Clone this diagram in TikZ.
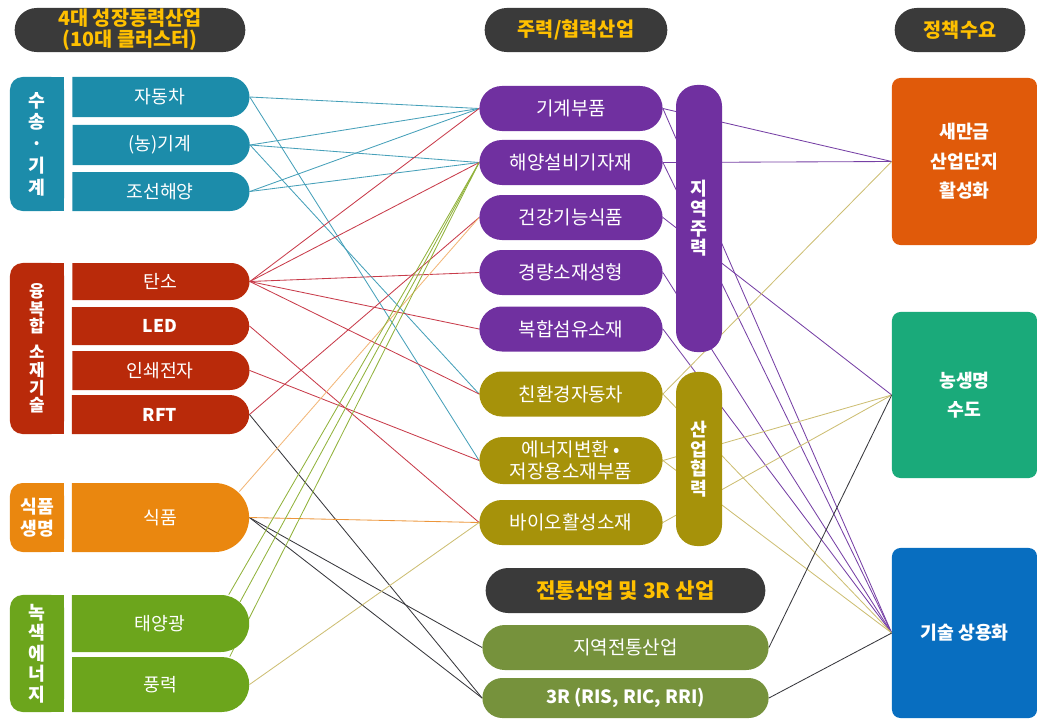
\documentclass[tikz,border=0pt]{standalone}
\usepackage{fontspec}
\setmainfont{Noto Sans CJK KR}
\usetikzlibrary{shapes.misc, positioning, backgrounds}
\definecolor{indDark}{RGB}{58, 58, 58}
\definecolor{indGold}{RGB}{255, 192, 0}
\definecolor{indTeal}{RGB}{28, 140, 170}
\definecolor{indRed}{RGB}{185, 42, 10}
\definecolor{indOrange}{RGB}{234, 135, 15}
\definecolor{indGreen}{RGB}{108, 165, 28}
\definecolor{indPurple}{RGB}{112, 48, 160}
\definecolor{indOlive}{RGB}{166, 146, 10}
\definecolor{indMoss}{RGB}{118, 146, 60}
\definecolor{polOrange}{RGB}{224, 90, 10}
\definecolor{polGreen}{RGB}{26, 170, 122}
\definecolor{polBlue}{RGB}{8, 110, 192}
\definecolor{lnTeal}{RGB}{70, 160, 185}
\definecolor{lnRed}{RGB}{200, 60, 75}
\definecolor{lnPurple}{RGB}{118, 64, 165}
\definecolor{lnTan}{RGB}{205, 190, 115}
\definecolor{lnDark}{RGB}{55, 55, 60}
\definecolor{lnGreen}{RGB}{145, 178, 60}
\definecolor{lnOrange}{RGB}{236, 150, 60}

\begin{document}
\begin{tikzpicture}[x=0.025cm, y=-0.025cm,
    headpill/.style={rounded rectangle, fill=indDark, text=indGold, minimum height=1.1cm,
                     font=\fontsize{14}{15}\selectfont\bfseries, align=center, inner ysep=0pt},
    catbox/.style={rectangle, rounded corners=9pt, minimum width=1.35cm, text=white,
                   font=\fontsize{13}{15.5}\selectfont\bfseries, align=center, inner sep=1pt},
    leftbox/.style={rounded rectangle, rounded rectangle left arc=none, minimum width=4.5cm,
                    text=white, font=\fontsize{13}{15}\selectfont, inner sep=1pt},
    midbox/.style={rounded rectangle, minimum width=4.65cm, minimum height=1.125cm, text=white,
                   font=\fontsize{13.5}{15.5}\selectfont, align=center, inner sep=1pt},
    band/.style={rectangle, rounded corners=15pt, minimum width=1.15cm, text=white,
                 font=\fontsize{13}{14}\selectfont\bfseries, align=center},
    goalbox/.style={rectangle, rounded corners=6pt, minimum width=3.625cm, text=white,
                    font=\fontsize{13}{21}\selectfont\bfseries, align=center},
    conn/.style={line width=0.6pt}
]
    \useasboundingbox (0,0) rectangle (1037,718);

    % Headers
    \node[headpill, minimum width=6cm] (head1) at (130,30) {4대 성장동력산업\\(10대 클러스터)};
    \node[headpill, minimum width=4.8cm] (head2) at (576,30) {주력/협력산업};
    \node[headpill, minimum width=3.5cm] (head3) at (960,30) {정책수요};

    % Transport / machinery
    \fill[indTeal] (37,77) rectangle (64,211);
    \node[catbox, fill=indTeal, minimum height=3.35cm] (cat1) at (37,144) {수\\송\\·\\기\\계};
    \node[leftbox, fill=indTeal, minimum height=1cm] (car) at (160,97) {자동차};
    \node[leftbox, fill=indTeal, minimum height=1cm] (agri) at (160,145) {(농)기계};
    \node[leftbox, fill=indTeal, minimum height=0.975cm] (ship) at (160,191.5) {조선해양};

    % Convergence materials
    \fill[indRed] (37,263) rectangle (64,434);
    \node[catbox, fill=indRed, minimum height=4.275cm, font=\fontsize{12}{12.5}\selectfont\bfseries]
        (cat2) at (37,348.5) {융\\복\\합\\[6pt]소\\재\\기\\술};
    \node[leftbox, fill=indRed, minimum height=0.925cm] (carbon) at (160,281.5) {탄소};
    \node[leftbox, fill=indRed, minimum height=0.95cm, font=\fontsize{12.5}{15}\selectfont\bfseries] (led) at (160,326) {LED};
    \node[leftbox, fill=indRed, minimum height=0.975cm] (print) at (160,370.5) {인쇄전자};
    \node[leftbox, fill=indRed, minimum height=0.975cm, font=\fontsize{12.5}{15}\selectfont\bfseries] (rft) at (160,414.5) {RFT};

    % Food / life
    \fill[indOrange] (37,483) rectangle (64,552);
    \node[catbox, fill=indOrange, minimum height=1.725cm] (cat3) at (37,517.5) {식품\\생명};
    \node[leftbox, fill=indOrange, minimum height=1.725cm] (food) at (160,517.5) {식품};

    % Green energy
    \fill[indGreen] (37,595) rectangle (64,712);
    \node[catbox, fill=indGreen, minimum height=2.925cm, font=\fontsize{13}{14.5}\selectfont\bfseries]
        (cat4) at (37,653.5) {녹\\색\\에\\너\\지};
    \node[leftbox, fill=indGreen, minimum height=1.425cm] (solar) at (160,623.5) {태양광};
    \node[leftbox, fill=indGreen, minimum height=1.375cm] (wind) at (160,684.5) {풍력};

    % Regional core industries
    \node[midbox, fill=indPurple] (parts) at (571,108.5) {기계부품};
    \node[midbox, fill=indPurple] (ocean) at (571,162.5) {해양설비기자재};
    \node[midbox, fill=indPurple] (health) at (571,217.5) {건강기능식품};
    \node[midbox, fill=indPurple] (light) at (571,272.5) {경량소재성형};
    \node[midbox, fill=indPurple] (fiber) at (571,329) {복합섬유소재};
    \node[band, fill=indPurple, minimum height=6.675cm] (core) at (699,218.5) {지\\역\\주\\력};

    % Cooperation industries
    \node[midbox, fill=indOlive] (eco) at (571,394) {친환경자동차};
    \node[midbox, fill=indOlive, minimum height=1.175cm] (energy) at (571,460.5) {에너지변환 •\\저장용소재부품};
    \node[midbox, fill=indOlive] (bio) at (571,522.5) {바이오활성소재};
    \node[band, fill=indOlive, minimum height=4.35cm] (coop) at (699,459) {산\\업\\협\\력};

    % Traditional and 3R
    \node[headpill, minimum width=7.225cm, minimum height=1.125cm, font=\fontsize{15}{16}\selectfont\bfseries]
        (head4) at (625.5,590.5) {전통산업 및 3R 산업};
    \node[midbox, fill=indMoss, minimum width=7.225cm] (trad) at (625.5,647.5) {지역전통산업};
    \node[midbox, fill=indMoss, minimum width=7.225cm, minimum height=1cm,
          font=\fontsize{13}{15}\selectfont\bfseries] (threer) at (625.5,698) {3R (RIS, RIC, RRI)};

    % Policy demand
    \node[goalbox, fill=polOrange, minimum height=4.175cm] (saman) at (964.5,161.5) {새만금\\산업단지\\활성화};
    \node[goalbox, fill=polGreen, minimum height=4.15cm] (agro) at (964.5,395) {농생명\\수도};
    \node[goalbox, fill=polBlue, minimum height=4.25cm] (tech) at (964.5,633) {기술 상용화};

    % Links
    \begin{scope}[on background layer]
        \draw[conn, lnTeal] (car.east) -- (parts.west);
        \draw[conn, lnTeal] (car.east) -- (energy.west);
        \draw[conn, lnTeal] (agri.east) -- (parts.west);
        \draw[conn, lnTeal] (agri.east) -- (ocean.west);
        \draw[conn, lnTeal] (agri.east) -- (eco.west);
        \draw[conn, lnTeal] (ship.east) -- (parts.west);
        \draw[conn, lnTeal] (ship.east) -- (ocean.west);

        \draw[conn, lnRed] (carbon.east) -- (parts.west);
        \draw[conn, lnRed] (carbon.east) -- (ocean.west);
        \draw[conn, lnRed] (carbon.east) -- (light.west);
        \draw[conn, lnRed] (carbon.east) -- (fiber.west);
        \draw[conn, lnRed] (carbon.east) -- (eco.west);
        \draw[conn, lnRed] (led.east) -- (bio.west);
        \draw[conn, lnRed] (print.east) -- (energy.west);
        \draw[conn, lnRed] (rft.east) -- (health.west);

        \draw[conn, lnDark] (rft.east) -- (threer.west);
        \draw[conn, lnDark] (food.east) -- (trad.west);
        \draw[conn, lnDark] (food.east) -- (threer.west);
        \draw[conn, lnOrange] (food.east) -- (bio.west);
        \draw[conn, lnOrange!70] (food.east) ++(-10,-26) -- (health.west);

        \draw[conn, lnGreen] (solar.north east) ++(8,0) -- (ocean.west);
        \draw[conn, lnGreen] (solar.15) -- (ocean.west);
        \draw[conn, lnGreen] (wind.north east) ++(8,0) -- (ocean.west);
        \draw[conn, lnTan] (wind.east) -- (bio.west);

        \draw[conn, lnPurple] (parts.east) -- (saman.west);
        \draw[conn, lnPurple] (ocean.east) -- (saman.west);
        \draw[conn, lnPurple] (parts.east) -- (tech.west);
        \draw[conn, lnPurple] (ocean.east) -- (tech.west);
        \draw[conn, lnPurple] (health.east) -- (agro.west);
        \draw[conn, lnPurple] (light.east) -- (tech.west);
        \draw[conn, lnPurple] (fiber.east) -- (tech.west);

        \draw[conn, lnTan] (eco.east) -- (saman.west);
        \draw[conn, lnTan] (eco.east) -- (tech.west);
        \draw[conn, lnTan] (energy.east) -- (agro.west);
        \draw[conn, lnTan] (energy.east) -- (tech.west);
        \draw[conn, lnTan] (bio.east) -- (agro.west);

        \draw[conn, lnDark] (trad.east) -- (agro.west);
        \draw[conn, lnDark] (threer.east) -- (tech.west);
    \end{scope}
\end{tikzpicture}
\end{document}
